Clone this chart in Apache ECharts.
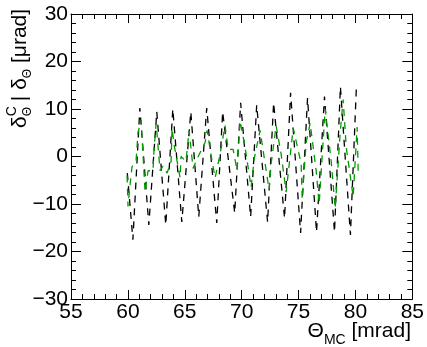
<!DOCTYPE html>
<html><head><meta charset="utf-8">
<script src="https://cdn.jsdelivr.net/npm/echarts@6/dist/echarts.min.js"></script>
<style>html,body{margin:0;padding:0;background:#fff}#c{width:427px;height:347px}</style>
</head><body><div id="c"></div>
<script>
// x: Theta_MC [mrad], y: delta [urad]
const blackX = [59.95, 60.44, 61.05, 61.84, 62.54, 63.33, 63.95, 64.74, 65.53, 66.23, 66.93, 67.81, 68.33, 69.39, 69.91, 70.79, 71.32, 72.28, 72.81, 73.77, 74.30, 75.18, 75.79, 76.58, 77.28, 78.16, 78.68, 79.56, 80.09];
const blackY = [-3.5, -17.5, 10.2, -14.4, 9.4, -14.4, 10.0, -13.8, 9.4, -12.7, 10.2, -14.0, 9.4, -11.9, 11.3, -12.7, 10.8, -13.8, 11.3, -13.0, 13.4, -16.1, 12.3, -15.9, 12.6, -15.9, 14.7, -16.5, 15.0];
const greenX = [59.93, 60.01, 60.19, 60.36, 60.72, 60.89, 61.16, 61.51, 61.77, 62.21, 62.30, 62.48, 62.83, 63.09, 63.44, 63.80, 63.88, 64.06, 64.59, 64.67, 65.11, 65.38, 65.73, 66.08, 66.79, 66.96, 67.40, 67.67, 68.10, 68.54, 68.81, 69.25, 69.60, 69.86, 70.30, 70.83, 71.10, 71.62, 72.41, 72.59, 73.03, 73.47, 73.91, 74.53, 75.23, 75.32, 75.67, 76.02, 76.55, 76.81, 77.34, 77.87, 78.22, 78.66, 78.92, 79.19, 79.80, 80.15, 80.24];
const greenY = [-4.0, -10.5, -6.0, -2.2, -0.8, 5.0, 7.7, -7.5, -3.0, -3.0, 1.5, 7.0, -3.0, -2.0, -3.5, -1.0, 6.0, 2.5, -4.5, 0.0, -1.0, 5.5, -2.5, -0.5, 3.0, 5.5, -1.0, -4.5, 0.5, 6.5, 1.5, 1.5, -3.0, 7.5, 2.0, -6.5, -0.5, 5.5, -7.0, -1.5, 6.5, 0.5, -7.5, 6.0, -1.5, -9.0, 3.0, 7.0, -3.0, -10.0, 10.0, -1.0, -11.0, 5.0, 12.0, 2.0, -8.5, 6.2, -3.0];
const xTicks = [55, 60, 65, 70, 75, 80, 85];
const yTicks = [-30, -20, -10, 0, 10, 20, 30];

const FONT = '"Liberation Sans", Arial, Helvetica, sans-serif';
const chart = echarts.init(document.getElementById('c'), null, {renderer: 'canvas'});

const grid = {left: 71, right: 14, top: 14, bottom: 48, show: false};
const minus = v => String(v).replace('-', '\u2212');
function xAx(pos, labels) {
  return {
    type: 'value', position: pos, min: xTicks[0], max: xTicks[xTicks.length - 1],
    interval: xTicks[1] - xTicks[0],
    axisLine: {show: true, onZero: false, lineStyle: {color: '#000', width: 1}},
    axisTick: {show: true, inside: true, length: 9, lineStyle: {color: '#000'}},
    minorTick: {show: true, splitNumber: 5, length: 5, lineStyle: {color: '#000'}},
    splitLine: {show: false},
    axisLabel: {show: labels, color: '#000', fontSize: 21, fontFamily: FONT, margin: 3, formatter: minus}
  };
}
function yAx(pos, labels) {
  return {
    type: 'value', position: pos, min: yTicks[0], max: yTicks[yTicks.length - 1],
    interval: yTicks[1] - yTicks[0],
    axisLine: {show: true, onZero: false, lineStyle: {color: '#000', width: 1}},
    axisTick: {show: true, inside: true, length: 10, lineStyle: {color: '#000'}},
    minorTick: {show: true, splitNumber: 5, length: 5, lineStyle: {color: '#000'}},
    splitLine: {show: false},
    axisLabel: {show: labels, color: '#000', fontSize: 21, fontFamily: FONT, margin: 3, formatter: minus}
  };
}

// layout helper for titles with sub/superscripts (y = baseline offset)
const mctx = document.createElement('canvas').getContext('2d');
function tw(text, size) { mctx.font = size + 'px ' + FONT; return mctx.measureText(text).width; }
function buildPieces(pieces) {
  let x = 0; const out = [];
  for (const p of pieces) {
    out.push({type: 'text', x: x, y: (p.dy || 0) - 0.35 * p.s,
      style: {text: p.t, font: p.s + 'px ' + FONT, fill: '#000', verticalAlign: 'middle', align: 'left'}});
    if (p.adv !== false) x += tw(p.t, p.s) + (p.gap || 0);
  }
  return {children: out, width: x};
}
const xt = buildPieces([
  {t: '\u0398', s: 21}, {t: 'MC', s: 14, dy: 6}, {t: ' [mrad]', s: 21}
]);
const yt = buildPieces([
  {t: '\u03b4', s: 21}, {t: 'C', s: 14, dy: -11, adv: false}, {t: '\u0398', s: 12, dy: 4},
  {t: ' | \u03b4', s: 21}, {t: '\u0398', s: 12, dy: 4}, {t: ' [\u03bcrad]', s: 21}
]);

chart.setOption({
  animation: false,
  backgroundColor: '#fff',
  grid: grid,
  xAxis: [xAx('bottom', true), xAx('top', false)],
  yAxis: [yAx('left', true), yAx('right', false)],
  series: [
    {type: 'line', xAxisIndex: 0, yAxisIndex: 0, showSymbol: false, symbol: 'none',
      data: blackX.map((x, i) => [x, blackY[i]]),
      lineStyle: {color: '#000', width: 1.3, type: [7, 6]}},
    {type: 'line', xAxisIndex: 0, yAxisIndex: 0, showSymbol: false, symbol: 'none',
      data: greenX.map((x, i) => [x, greenY[i]]),
      lineStyle: {color: '#009a00', width: 1.3, type: [7, 6]}}
  ],
  graphic: [
    {type: 'group', x: 411 - xt.width, y: 339, children: xt.children},
    {type: 'group', x: 28, y: 128, rotation: Math.PI / 2, children: yt.children}
  ]
});
</script></body></html>
